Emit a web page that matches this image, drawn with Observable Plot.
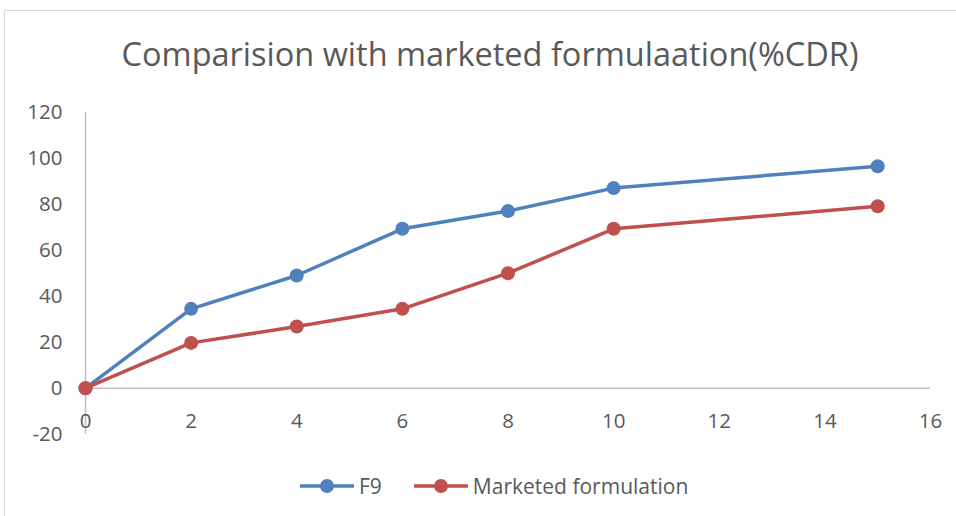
<!DOCTYPE html>
<html><head><meta charset="utf-8">
<script src="https://cdn.jsdelivr.net/npm/d3@7"></script>
<script src="https://cdn.jsdelivr.net/npm/@observablehq/plot@0.6"></script>
<style>
body{margin:0;background:#fff;font-family:"Open Sans",sans-serif;}
#wrap{position:relative;width:956px;height:516px;overflow:hidden;background:#fff;}
#frame{position:absolute;left:4px;top:10px;width:990px;height:560px;border:1px solid #d9d9d9;box-sizing:border-box;}
#title{position:absolute;left:0;top:35px;width:980px;text-align:center;font-size:32.5px;line-height:38px;color:#595959;white-space:nowrap;}
#chart{position:absolute;left:0;top:0;}
#legend{position:absolute;left:300px;top:472px;height:28px;display:flex;align-items:center;font-size:21px;color:#595959;}
.item{display:flex;align-items:center;}
</style></head>
<body>
<div id="wrap">
  <div id="frame"></div>
  <div id="title">Comparision with marketed formulaation(%CDR)</div>
  <div id="chart"></div>
  <div id="legend"></div>
</div>
<script>
const times = [0, 2, 4, 6, 8, 10, 15];
const f9 = [0, 34.5, 49, 69.3, 77, 87, 96.5];
const marketed = [0, 19.7, 26.8, 34.5, 50, 69.3, 79.1];
const seriesNames = ["F9", "Marketed formulation"];
const seriesColors = ["#4f81bd", "#c0504d"];
const yTicks = [-20, 0, 20, 40, 60, 80, 100, 120];
const xTicks = [0, 2, 4, 6, 8, 10, 12, 14, 16];

const data = [];
times.forEach((t, i) => data.push({t, v: f9[i], s: seriesNames[0]}));
times.forEach((t, i) => data.push({t, v: marketed[i], s: seriesNames[1]}));

const chart = Plot.plot({
  width: 956, height: 516,
  marginLeft: 85, marginRight: 26, marginTop: 111.7, marginBottom: 82.3,
  x: {domain: [0, 16]},
  y: {domain: [-20, 120]},
  color: {domain: seriesNames, range: seriesColors},
  style: {background: "transparent", fontFamily: "Open Sans", fontSize: "20.5px", color: "#595959", overflow: "visible"},
  marks: [
    Plot.ruleX([0], {y1: -20, y2: 120, stroke: "#bfbfbf", strokeWidth: 1.5}),
    Plot.ruleY([0], {x1: 0, x2: 16, stroke: "#bfbfbf", strokeWidth: 1.5}),
    Plot.axisY({ticks: yTicks, tickSize: 0, tickPadding: 23, label: null, fill: "#595959", fontSize: 20.5, tickFormat: d => String(d)}),
    Plot.axisX({ticks: xTicks, tickSize: 0, tickPadding: -21, label: null, fill: "#595959", fontSize: 20.5, tickFormat: d => String(d)}),
    Plot.line(data, {x: "t", y: "v", z: "s", stroke: "s", strokeWidth: 3.5}),
    Plot.dot(data, {x: "t", y: "v", fill: "s", r: 7})
  ]
});
document.getElementById("chart").appendChild(chart);

const legend = document.getElementById("legend");
seriesNames.forEach((name, i) => {
  const item = document.createElement("div");
  item.className = "item";
  item.style.marginRight = i === 0 ? "32px" : "0";
  item.innerHTML = `<svg width="54" height="20" style="margin-right:5px"><line x1="0" x2="54" y1="10" y2="10" stroke="${seriesColors[i]}" stroke-width="3.5"/><circle cx="27" cy="10" r="7" fill="${seriesColors[i]}"/></svg><span>${name}</span>`;
  legend.appendChild(item);
});
</script>
</body></html>
